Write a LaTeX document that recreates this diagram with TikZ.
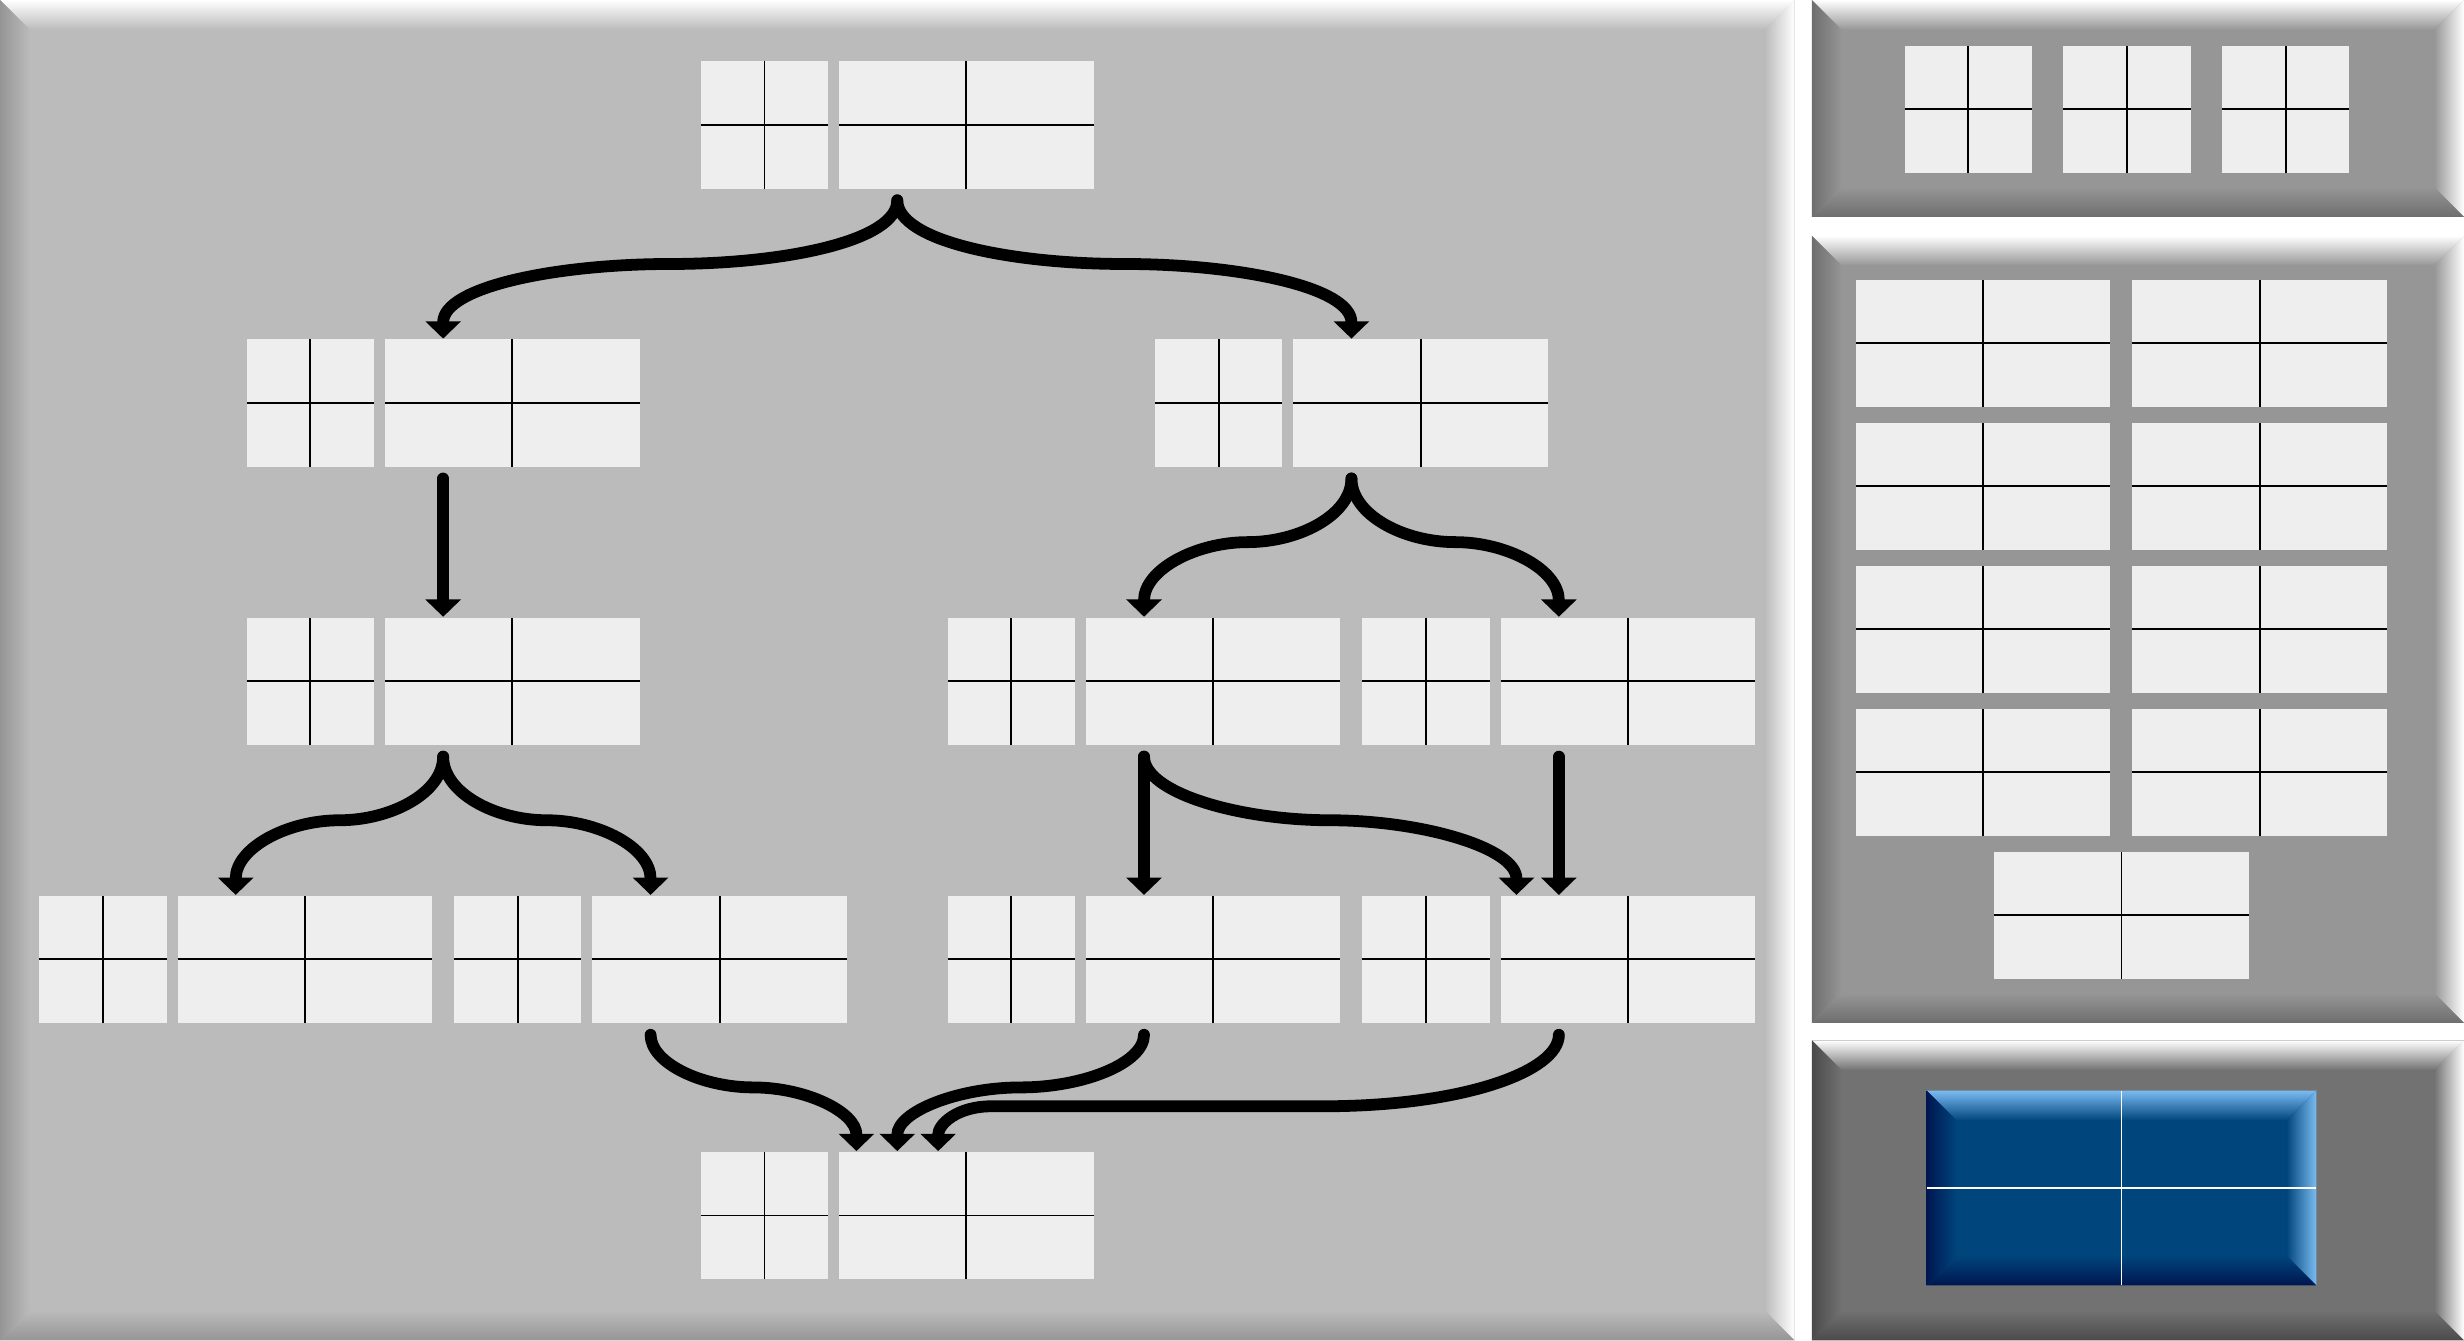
\documentclass[tikz,border=0pt]{standalone}
\usetikzlibrary{arrows.meta,calc}

\definecolor{mainface}{HTML}{BBBBBB}
\definecolor{maindark}{HTML}{959595}
\definecolor{sideface}{HTML}{969696}
\definecolor{sidedark}{HTML}{6E6E6E}
\definecolor{baseface}{HTML}{727272}
\definecolor{basedark}{HTML}{4A4A4A}
\definecolor{blueface}{HTML}{00457C}
\definecolor{bluedark}{HTML}{001650}
\definecolor{bluelight}{HTML}{7ABCF2}
\definecolor{cellfill}{HTML}{EEEEEE}

\def\bev{19} % width of the bevelled rim

% panel with bevelled rim: x1,y1,x2,y2, face, dark rim, light rim
\newcommand{\bevelpanel}[7]{%
    \fill[#5] (#1,#2) rectangle (#3,#4);
    \shade[top color=#7, bottom color=#5] (#1,#4) -- (#3,#4) -- (#3-\bev,#4-\bev) -- (#1+\bev,#4-\bev) -- cycle;
    \shade[left color=#6, right color=#5] (#1,#2) -- (#1+\bev,#2+\bev) -- (#1+\bev,#4-\bev) -- (#1,#4) -- cycle;
    \shade[left color=#5, right color=#7] (#3,#2) -- (#3,#4) -- (#3-\bev,#4-\bev) -- (#3-\bev,#2+\bev) -- cycle;
    \shade[top color=#5, bottom color=#6] (#1,#2) -- (#3,#2) -- (#3-\bev,#2+\bev) -- (#1+\bev,#2+\bev) -- cycle;
}
% cross lines through a box: x,y,w,h, colour
\newcommand{\crosslines}[5]{%
    \draw[line width=1.2pt,#5] (#1,#2+#4/2) -- ++(#3,0) (#1+#3/2,#2) -- ++(0,#4);
}
% light box split in four: x,y,w,h
\newcommand{\gridbox}[4]{%
    \fill[cellfill] (#1,#2) rectangle ++(#3,#4);
    \crosslines{#1}{#2}{#3}{#4}{black}
}
% small square and wide box side by side, with a node round both: name, x, y
\newcommand{\cellgroup}[3]{%
    \node[grp] (#1) at (#2,#3) {};
    \gridbox{#2-125}{#3-40.5}{81}{81}
    \gridbox{#2-37}{#3-40.5}{162}{81}
}

\tikzset{
    grp/.style={minimum width=250pt, minimum height=81pt, inner sep=0pt, outer sep=0.5pt},
    flowarrow/.style={line width=7.5pt, line cap=round, shorten <=7pt,
        -{Triangle[width=22pt,length=11pt]}}
}

\begin{document}
\begin{tikzpicture}[x=1pt, y=1pt]
    \useasboundingbox (0,0) rectangle (1568,853);
    \fill[white] (0,0) rectangle (1568,853);
    % panels
    \bevelpanel{0}{0}{1142}{853}{mainface}{maindark}{white}
    \bevelpanel{1153}{715}{1568}{853}{sideface}{sidedark}{white}
    \bevelpanel{1153}{202}{1568}{703}{sideface}{sidedark}{white}
    \bevelpanel{1153}{0}{1568}{191}{baseface}{basedark}{white}
    % top side panel
    \gridbox{1212}{743}{81}{81}
    \gridbox{1313}{743}{81}{81}
    \gridbox{1414}{743}{81}{81}
    % middle side panel
    \gridbox{1181}{594}{162}{81}
    \gridbox{1357}{594}{162}{81}
    \gridbox{1181}{503}{162}{81}
    \gridbox{1357}{503}{162}{81}
    \gridbox{1181}{412}{162}{81}
    \gridbox{1357}{412}{162}{81}
    \gridbox{1181}{321}{162}{81}
    \gridbox{1357}{321}{162}{81}
    \gridbox{1269}{230}{162}{81}
    % bottom side panel
    \bevelpanel{1226}{35}{1474}{159}{blueface}{bluedark}{bluelight}
    \crosslines{1226}{35}{248}{124}{white}
    % groups of the tree
    \cellgroup{root}{571}{773.5}
    \cellgroup{left1}{282}{596.5}
    \cellgroup{right1}{860}{596.5}
    \cellgroup{left2}{282}{419.5}
    \cellgroup{mid2}{728}{419.5}
    \cellgroup{right2}{992}{419.5}
    \cellgroup{leafa}{150}{242.5}
    \cellgroup{leafb}{414}{242.5}
    \cellgroup{leafc}{728}{242.5}
    \cellgroup{leafd}{992}{242.5}
    \cellgroup{sink}{571}{79.5}
    % arrow ends beside the centre
    \coordinate (leafd-in) at ($(leafd.north)+(-27,0)$);
    \coordinate (sink-a) at ($(sink.north)+(-26,0)$);
    \coordinate (sink-c) at ($(sink.north)+(26,0)$);
    % root splits
    \draw[flowarrow] (root.south) .. controls +(0,-33) and +(72,0) .. ($(root.south)!.5!(left1.north)$)
        .. controls +(-72,0) and +(0,33) .. (left1.north);
    \draw[flowarrow] (root.south) .. controls +(0,-33) and +(-72,0) .. ($(root.south)!.5!(right1.north)$)
        .. controls +(72,0) and +(0,33) .. (right1.north);
    % second level
    \draw[flowarrow] (left1.south) -- (left2.north);
    \draw[flowarrow] (right1.south) .. controls +(0,-30) and +(33,0) .. ($(right1.south)!.5!(mid2.north)$)
        .. controls +(-33,0) and +(0,30) .. (mid2.north);
    \draw[flowarrow] (right1.south) .. controls +(0,-30) and +(-33,0) .. ($(right1.south)!.5!(right2.north)$)
        .. controls +(33,0) and +(0,30) .. (right2.north);
    % third level
    \draw[flowarrow] (left2.south) .. controls +(0,-30) and +(33,0) .. ($(left2.south)!.5!(leafa.north)$)
        .. controls +(-33,0) and +(0,30) .. (leafa.north);
    \draw[flowarrow] (left2.south) .. controls +(0,-30) and +(-33,0) .. ($(left2.south)!.5!(leafb.north)$)
        .. controls +(33,0) and +(0,30) .. (leafb.north);
    \draw[flowarrow] (mid2.south) -- (leafc.north);
    \draw[flowarrow] (mid2.south) .. controls +(0,-30) and +(-58,0) .. ($(mid2.south)!.5!(leafd-in)$)
        .. controls +(58,0) and +(0,30) .. (leafd-in);
    \draw[flowarrow] (right2.south) -- (leafd.north);
    % merge into sink
    \draw[flowarrow] (leafb.south) .. controls +(0,-25) and +(-33,0) .. ($(leafb.south)!.5!(sink-a)$)
        .. controls +(33,0) and +(0,25) .. (sink-a);
    \draw[flowarrow] (leafc.south) .. controls +(0,-25) and +(40,0) .. ($(leafc.south)!.5!(sink.north)$)
        .. controls +(-40,0) and +(0,25) .. (sink.north);
    \draw[flowarrow] (leafd.south) .. controls +(0,-30) and +(90,0) .. ++(-150,-52.5)
        -- ($(sink-c)+(34,28.5)$) .. controls +(-22,0) and +(0,17) .. (sink-c);
\end{tikzpicture}
\end{document}
